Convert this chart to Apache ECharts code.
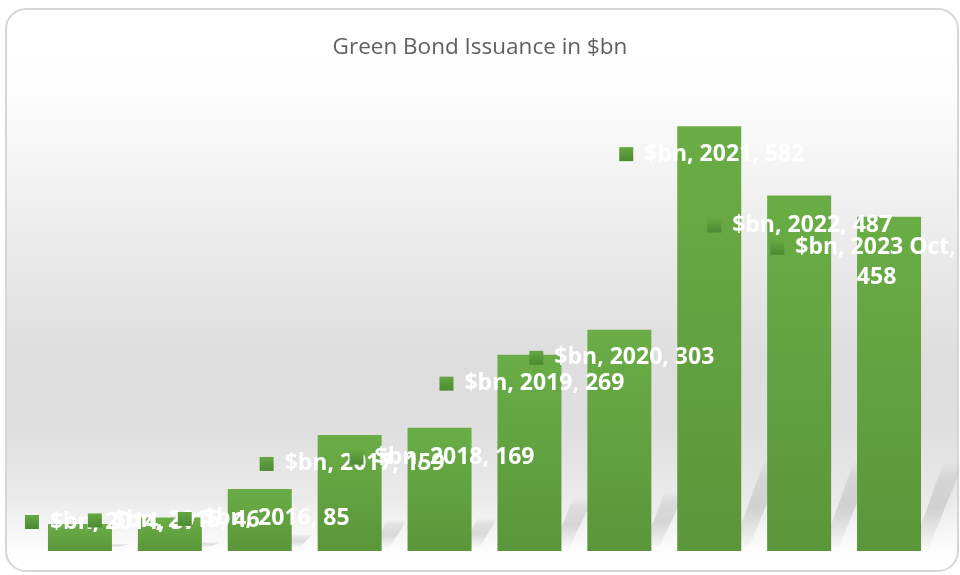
<!DOCTYPE html>
<html>
<head>
<meta charset="utf-8">
<title>Green Bond Issuance in $bn</title>
<script src="https://cdn.jsdelivr.net/npm/echarts@6/dist/echarts.min.js"></script>
<style>
  html, body { margin: 0; padding: 0; background: #ffffff; }
  #chart { width: 960px; height: 575px; }
</style>
</head>
<body>
<div id="chart"></div>
<script>
// Annual green bond issuance, $bn
const years = ['2014', '2015', '2016', '2017', '2018', '2019', '2020', '2021', '2022', '2023 Oct'];
const issuance = [37, 46, 85, 159, 169, 269, 303, 582, 487, 458];
const seriesName = '$bn';

// Where each data label sits, relative to the top-left of its bar: [dx, dy, align]
const labelSpots = [
  [-23, -2, 'left'], [-50, 3, 'left'], [-50, 30, 'left'], [-58, 29, 'left'], [-58, 30, 'left'],
  [-58, 29, 'left'], [-58, 28, 'left'], [-58, 28, 'left'], [-60, 30, 'left'], [6, 46, 'center']
];

const barGreen = new echarts.graphic.LinearGradient(0, 0, 0, 1, [
  { offset: 0, color: '#6aad46' },
  { offset: 1, color: '#5a963a' }
]);
const keyGreen = new echarts.graphic.LinearGradient(0, 0, 0, 1, [
  { offset: 0, color: '#64a843' },
  { offset: 1, color: '#4c8a32' }
]);

const chart = echarts.init(document.getElementById('chart'), null, { renderer: 'canvas' });

const labelFont = { fontFamily: 'Open Sans', fontWeight: 'bold', fontSize: 23, color: '#ffffff' };

const barData = issuance.map((v, i) => {
  const spot = labelSpots[i];
  const wrapped = years[i].indexOf(' ') > 0;
  return {
    value: v,
    label: {
      show: true,
      position: [spot[0], spot[1]],
      align: spot[2],
      verticalAlign: 'middle',
      formatter: wrapped
        ? '{k|}{t|' + seriesName + ', ' + years[i] + ',}\n{u|' + v + '}'
        : '{k|}{t|' + seriesName + ', ' + years[i] + ', ' + v + '}',
      rich: {
        k: { width: 14, height: 14, backgroundColor: keyGreen },
        t: Object.assign({ padding: [0, 0, 0, 11], lineHeight: 30 }, labelFont),
        u: Object.assign({ padding: [0, 0, 0, 27], lineHeight: 30 }, labelFont)
      }
    }
  };
});

chart.setOption({
  animation: false,
  backgroundColor: '#ffffff',
  graphic: [{
    type: 'rect',
    z: -10,
    silent: true,
    shape: { x: 6, y: 9, width: 952, height: 562, r: 20 },
    style: {
      fill: new echarts.graphic.LinearGradient(0, 0, 0, 1, [
        { offset: 0.00, color: '#ffffff' },
        { offset: 0.15, color: '#fdfdfd' },
        { offset: 0.40, color: '#ececec' },
        { offset: 0.62, color: '#dedede' },
        { offset: 0.75, color: '#dfdfdf' },
        { offset: 0.87, color: '#ebebeb' },
        { offset: 0.96, color: '#fcfcfc' },
        { offset: 1.00, color: '#ffffff' }
      ]),
      stroke: '#d6d6d6',
      lineWidth: 2
    }
  }],
  title: {
    text: 'Green Bond Issuance in $bn',
    left: 'center',
    top: 31,
    textStyle: { fontFamily: 'Open Sans', fontWeight: 'normal', fontSize: 22.5, color: '#5f5f5f' }
  },
  grid: { left: 35, right: 26, top: 113, bottom: 24 },
  xAxis: {
    type: 'category',
    data: years,
    axisLine: { show: false },
    axisTick: { show: false },
    axisLabel: { show: false }
  },
  yAxis: {
    type: 'value',
    min: 0,
    max: 600,
    show: false,
    splitLine: { show: false }
  },
  series: [
    {
      // soft diagonal shadow streak trailing off the right edge of each bar
      type: 'custom',
      name: 'shadow',
      z: 1,
      silent: true,
      data: issuance.map((v, i) => [i, v]),
      renderItem: function (params, api) {
        const base = api.coord([api.value(0), 0]);
        const top = api.coord([api.value(0), api.value(1)]);
        const right = base[0] + 32;
        const h = Math.min((base[1] - top[1]) * 0.27, 92);
        const skew = 0.3;
        const w = 16;
        return {
          type: 'polygon',
          shape: {
            points: [
              [right - 8, base[1] - 4],
              [right + w - 8, base[1] - 4],
              [right + w + h * skew, base[1] - h],
              [right + h * skew - 4, base[1] - h]
            ]
          },
          style: {
            fill: new echarts.graphic.LinearGradient(0, 1, 0, 0, [
              { offset: 0, color: 'rgba(0,0,0,0.02)' },
              { offset: 0.45, color: 'rgba(0,0,0,0.11)' },
              { offset: 0.8, color: 'rgba(0,0,0,0.07)' },
              { offset: 1, color: 'rgba(0,0,0,0)' }
            ]),
            shadowBlur: 18,
            shadowColor: 'rgba(0,0,0,0.22)'
          }
        };
      }
    },
    {
      type: 'bar',
      name: seriesName,
      z: 2,
      barWidth: 64,
      itemStyle: { color: barGreen },
      data: barData
    }
  ]
});
</script>
</body>
</html>
